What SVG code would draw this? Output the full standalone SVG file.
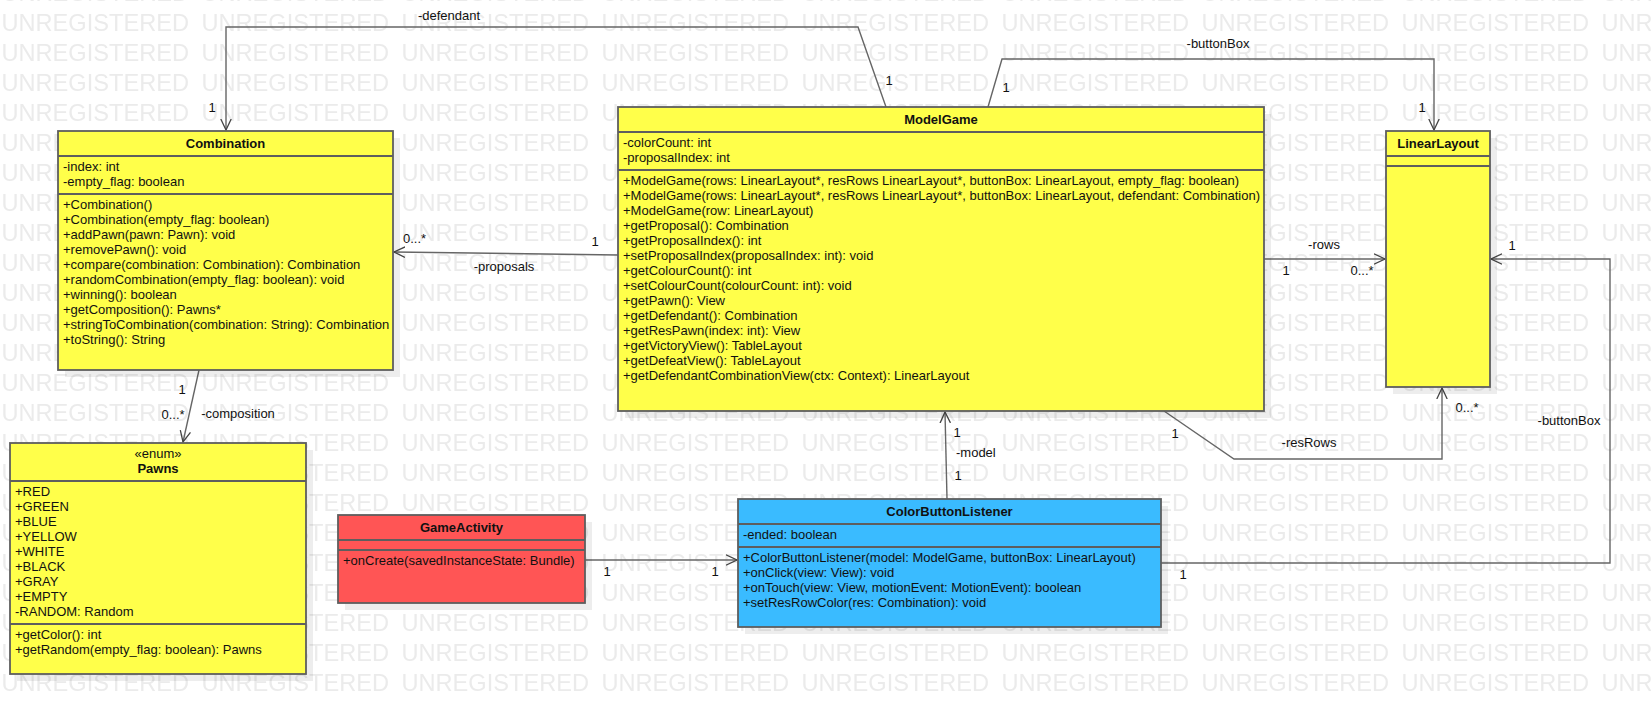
<svg xmlns="http://www.w3.org/2000/svg" width="1651" height="714" viewBox="0 0 1651 714">
<style>
text{font-family:"Liberation Sans",Arial,sans-serif;font-size:13px;fill:#111}
.b{font-weight:bold}
.m{text-anchor:middle}
.wm{font-size:23.6px;fill:#ebebeb}
.box{stroke:#5e5e5e;stroke-width:1.8}
.y{fill:#ffff4a}
.r{fill:#ff5555}
.bl{fill:#3abbff}
.sh{fill:#000;fill-opacity:0.07}
.sep{stroke:#5e5e5e;stroke-width:1.8}
.c{fill:none;stroke:#666;stroke-width:1.4}
</style>
<defs>
<pattern id="wmp" x="0" y="2" width="200" height="30" patternUnits="userSpaceOnUse">
<text class="wm" x="1.5" y="29">UNREGISTERED</text>
</pattern>
<marker id="arr" markerWidth="14" markerHeight="14" refX="11" refY="6" orient="auto" markerUnits="userSpaceOnUse">
<path d="M0,0.8 L11,6 L0,11.2" fill="none" stroke="#444" stroke-width="1.3"/>
</marker>
</defs>
<rect width="1651" height="714" fill="#fff"/>
<rect id="watermark" width="1651" height="696" fill="url(#wmp)"/>

<g id="connectors">
<polyline class="c" points="886,107 858,27 226,27 226,130" marker-end="url(#arr)"/>
<text class="m" x="449" y="20">-defendant</text>
<text class="m" x="212" y="112">1</text>
<text class="m" x="889" y="85">1</text>

<polyline class="c" points="988,107 1002,59 1434,59 1434,130" marker-end="url(#arr)"/>
<text class="m" x="1218" y="48">-buttonBox</text>
<text class="m" x="1006" y="92">1</text>
<text class="m" x="1422" y="112">1</text>

<polyline class="c" points="618,255 394,252" marker-end="url(#arr)"/>
<text x="403" y="243">0...*</text>
<text class="m" x="595" y="246">1</text>
<text class="m" x="504" y="271">-proposals</text>

<polyline class="c" points="1264,259 1385,259" marker-end="url(#arr)"/>
<text class="m" x="1324" y="249">-rows</text>
<text class="m" x="1286" y="275">1</text>
<text class="m" x="1362" y="275">0...*</text>

<polyline class="c" points="1164,411 1234,459 1442,459 1442,388" marker-end="url(#arr)"/>
<text class="m" x="1175" y="438">1</text>
<text class="m" x="1309" y="447">-resRows</text>
<text class="m" x="1467" y="412">0...*</text>

<polyline class="c" points="199,370 183,442" marker-end="url(#arr)"/>
<text class="m" x="182" y="394">1</text>
<text class="m" x="173" y="419">0...*</text>
<text class="m" x="238" y="418">-composition</text>

<polyline class="c" points="947,499 945,412" marker-end="url(#arr)"/>
<text class="m" x="957" y="437">1</text>
<text x="956" y="457">-model</text>
<text class="m" x="958" y="480">1</text>

<polyline class="c" points="585,560 737,560" marker-end="url(#arr)"/>
<text class="m" x="607" y="576">1</text>
<text class="m" x="715" y="576">1</text>

<polyline class="c" points="1161,563 1610,563 1610,259 1491,259" marker-end="url(#arr)"/>
<text class="m" x="1183" y="579">1</text>
<text class="m" x="1569" y="425">-buttonBox</text>
<text class="m" x="1512" y="250">1</text>
</g>

<g id="Combination">
<rect class="sh" x="65" y="138" width="335" height="239"/>
<rect class="box y" x="58" y="131" width="335" height="239"/>
<line class="sep" x1="58" y1="156" x2="393" y2="156"/>
<line class="sep" x1="58" y1="194" x2="393" y2="194"/>
<text class="b m" x="225.5" y="148">Combination</text>
<text x="63" y="171">-index: int</text>
<text x="63" y="186">-empty_flag: boolean</text>
<text x="63" y="209">+Combination()</text>
<text x="63" y="224">+Combination(empty_flag: boolean)</text>
<text x="63" y="239">+addPawn(pawn: Pawn): void</text>
<text x="63" y="254">+removePawn(): void</text>
<text x="63" y="269">+compare(combination: Combination): Combination</text>
<text x="63" y="284">+randomCombination(empty_flag: boolean): void</text>
<text x="63" y="299">+winning(): boolean</text>
<text x="63" y="314">+getComposition(): Pawns*</text>
<text x="63" y="329">+stringToCombination(combination: String): Combination</text>
<text x="63" y="344">+toString(): String</text>
</g>

<g id="ModelGame">
<rect class="sh" x="625" y="114" width="646" height="304"/>
<rect class="box y" x="618" y="107" width="646" height="304"/>
<line class="sep" x1="618" y1="132" x2="1264" y2="132"/>
<line class="sep" x1="618" y1="170" x2="1264" y2="170"/>
<text class="b m" x="941" y="124">ModelGame</text>
<text x="623" y="147">-colorCount: int</text>
<text x="623" y="162">-proposalIndex: int</text>
<text x="623" y="185">+ModelGame(rows: LinearLayout*, resRows LinearLayout*, buttonBox: LinearLayout, empty_flag: boolean)</text>
<text x="623" y="200">+ModelGame(rows: LinearLayout*, resRows LinearLayout*, buttonBox: LinearLayout, defendant: Combination)</text>
<text x="623" y="215">+ModelGame(row: LinearLayout)</text>
<text x="623" y="230">+getProposal(): Combination</text>
<text x="623" y="245">+getProposalIndex(): int</text>
<text x="623" y="260">+setProposalIndex(proposalIndex: int): void</text>
<text x="623" y="275">+getColourCount(): int</text>
<text x="623" y="290">+setColourCount(colourCount: int): void</text>
<text x="623" y="305">+getPawn(): View</text>
<text x="623" y="320">+getDefendant(): Combination</text>
<text x="623" y="335">+getResPawn(index: int): View</text>
<text x="623" y="350">+getVictoryView(): TableLayout</text>
<text x="623" y="365">+getDefeatView(): TableLayout</text>
<text x="623" y="380">+getDefendantCombinationView(ctx: Context): LinearLayout</text>
</g>

<g id="LinearLayout">
<rect class="sh" x="1393" y="138" width="104" height="256"/>
<rect class="box y" x="1386" y="131" width="104" height="256"/>
<line class="sep" x1="1386" y1="156" x2="1490" y2="156"/>
<line class="sep" x1="1386" y1="166" x2="1490" y2="166"/>
<text class="b m" x="1438" y="148">LinearLayout</text>
</g>

<g id="Pawns">
<rect class="sh" x="17" y="450" width="296" height="231"/>
<rect class="box y" x="10" y="443" width="296" height="231"/>
<line class="sep" x1="10" y1="481" x2="306" y2="481"/>
<line class="sep" x1="10" y1="624" x2="306" y2="624"/>
<text class="m" x="158" y="458">«enum»</text>
<text class="b m" x="158" y="473">Pawns</text>
<text x="15" y="496">+RED</text>
<text x="15" y="511">+GREEN</text>
<text x="15" y="526">+BLUE</text>
<text x="15" y="541">+YELLOW</text>
<text x="15" y="556">+WHITE</text>
<text x="15" y="571">+BLACK</text>
<text x="15" y="586">+GRAY</text>
<text x="15" y="601">+EMPTY</text>
<text x="15" y="616">-RANDOM: Random</text>
<text x="15" y="639">+getColor(): int</text>
<text x="15" y="654">+getRandom(empty_flag: boolean): Pawns</text>
</g>

<g id="GameActivity">
<rect class="sh" x="345" y="522" width="247" height="88"/>
<rect class="box r" x="338" y="515" width="247" height="88"/>
<line class="sep" x1="338" y1="540" x2="585" y2="540"/>
<line class="sep" x1="338" y1="550" x2="585" y2="550"/>
<text class="b m" x="461.5" y="532">GameActivity</text>
<text x="343" y="565">+onCreate(savedInstanceState: Bundle)</text>
</g>

<g id="ColorButtonListener">
<rect class="sh" x="745" y="506" width="423" height="128"/>
<rect class="box bl" x="738" y="499" width="423" height="128"/>
<line class="sep" x1="738" y1="524" x2="1161" y2="524"/>
<line class="sep" x1="738" y1="547" x2="1161" y2="547"/>
<text class="b m" x="949.5" y="516">ColorButtonListener</text>
<text x="743" y="539">-ended: boolean</text>
<text x="743" y="562">+ColorButtonListener(model: ModelGame, buttonBox: LinearLayout)</text>
<text x="743" y="577">+onClick(view: View): void</text>
<text x="743" y="592">+onTouch(view: View, motionEvent: MotionEvent): boolean</text>
<text x="743" y="607">+setResRowColor(res: Combination): void</text>
</g>
</svg>
